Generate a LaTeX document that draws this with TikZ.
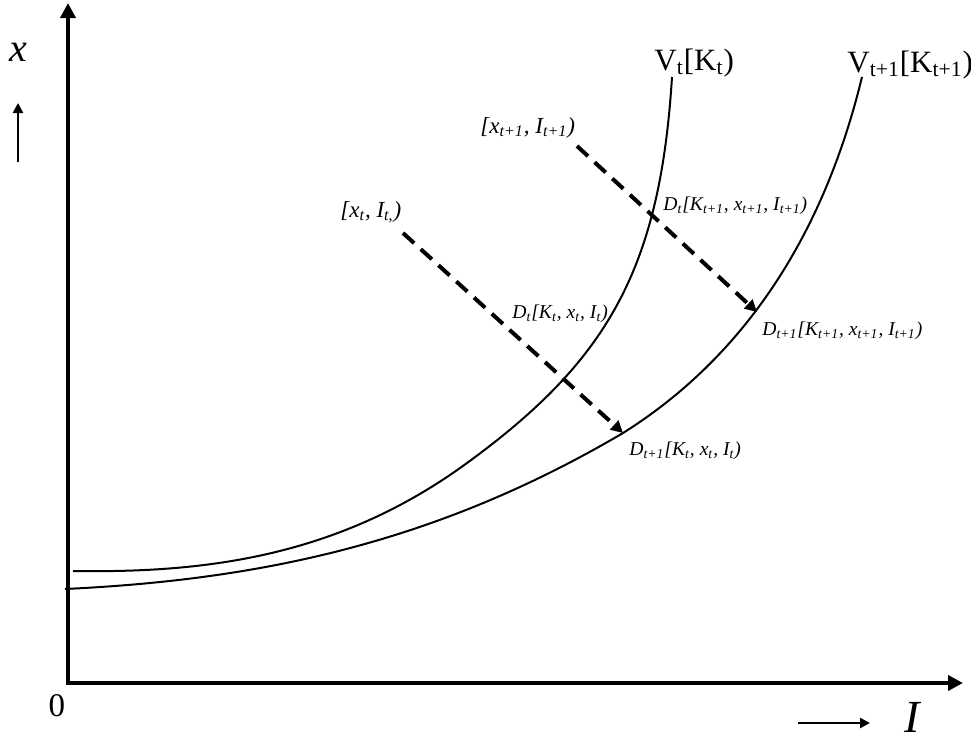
\documentclass[tikz,border=0pt]{standalone}
\usepackage{fontspec}
\setmainfont{Liberation Serif}
\usetikzlibrary{
    arrows.meta,
    positioning
}
\tikzset{
    axisline/.style={{Triangle[length=7.5pt,width=7.5pt]}-{Triangle[length=7.5pt,width=7.5pt]}, line width=2pt},
    hintarrow/.style={-{Triangle[length=5pt,width=5pt]}, line width=1.4pt},
    valuecurve/.style={line width=1pt},
    shiftarrow/.style={-{Triangle[length=6pt,width=6pt]}, line width=2pt, dash pattern=on 7.5pt off 4.5pt},
    curvelabel/.style={font=\fontsize{15.5}{18}\selectfont, inner sep=0pt, anchor=base west},
    pointlabel/.style={font=\fontsize{11.5}{13}\selectfont\itshape, inner sep=0pt, anchor=base west},
    dlabel/.style={font=\fontsize{9.8}{11}\selectfont\itshape, inner sep=0pt, anchor=base west},
    axislabel/.style={font=\fontsize{20}{22}\selectfont\itshape, inner sep=0pt}
}

\begin{document}
\begin{tikzpicture}[x=0.5pt, y=-0.5pt]
    \useasboundingbox (0,0) rectangle (971,740);
    \coordinate (O) at (68,683);
    \coordinate (ytop) at (68,3);
    \coordinate (xend) at (963,683);
    \draw[axisline] (ytop) -- (O) -- (xend);

    \node[axislabel] (xlab) at (18,52) {x};
    \coordinate (xhintA) at (18,162);
    \coordinate (xhintB) at (18,103);
    \draw[hintarrow] (xhintA) -- (xhintB);
    \node[font=\fontsize{16.5}{18}\selectfont, inner sep=0pt, anchor=base] (zero) at (57,716) {0};
    \node[axislabel, font=\fontsize{23}{25}\selectfont\itshape, anchor=base] (ilab) at (912,732) {I};
    \coordinate (ihintA) at (798,723);
    \coordinate (ihintB) at (870,723);
    \draw[hintarrow] (ihintA) -- (ihintB);

    \coordinate (vnowA) at (73,571);
    \coordinate (vnowB) at (467,463);
    \coordinate (vnowC) at (672,77);
    \coordinate (vnextA) at (65,589);
    \coordinate (vnextB) at (623,433);
    \coordinate (vnextC) at (862,77);
    \draw[valuecurve] (vnowA) .. controls (203,573) and (337,558) .. (vnowB)
        .. controls (607,361) and (660,270) .. (vnowC);
    \draw[valuecurve] (vnextA) .. controls (255,580) and (433,545) .. (vnextB)
        .. controls (733,364) and (820,250) .. (vnextC);

    \node[curvelabel] (vnow) at (654,70) {V\textsubscript{t}[K\textsubscript{t})};
    \node[curvelabel] (vnext) at (847,72) {V\textsubscript{t+1}[K\textsubscript{t+1})};

    \node[pointlabel] (pnow) at (340,217) {[x\textsubscript{t},\ I\textsubscript{t,})};
    \node[pointlabel] (pnext) at (480,133) {[x\textsubscript{t+1}, I\textsubscript{t+1})};

    \coordinate (snow) at (403,233);
    \coordinate (snext) at (577,146);
    \coordinate (enext) at (757,312);
    \foreach \a/\b in {snow/vnextB, snext/enext}
        \draw[shiftarrow] (\a) -- (\b);

    \node[dlabel] (dnow) at (512,318) {D\textsubscript{t}[K\textsubscript{t}, x\textsubscript{t}, I\textsubscript{t})};
    \node[dlabel] (dnownext) at (663,210) {D\textsubscript{t}[K\textsubscript{t+1}, x\textsubscript{t+1}, I\textsubscript{t+1})};
    \node[dlabel] (dnextnext) at (762,335) {D\textsubscript{t+1}[K\textsubscript{t+1}, x\textsubscript{t+1}, I\textsubscript{t+1})};
    \node[dlabel] (dnextnow) at (629,455) {D\textsubscript{t+1}[K\textsubscript{t}, x\textsubscript{t}, I\textsubscript{t})};
\end{tikzpicture}
\end{document}
